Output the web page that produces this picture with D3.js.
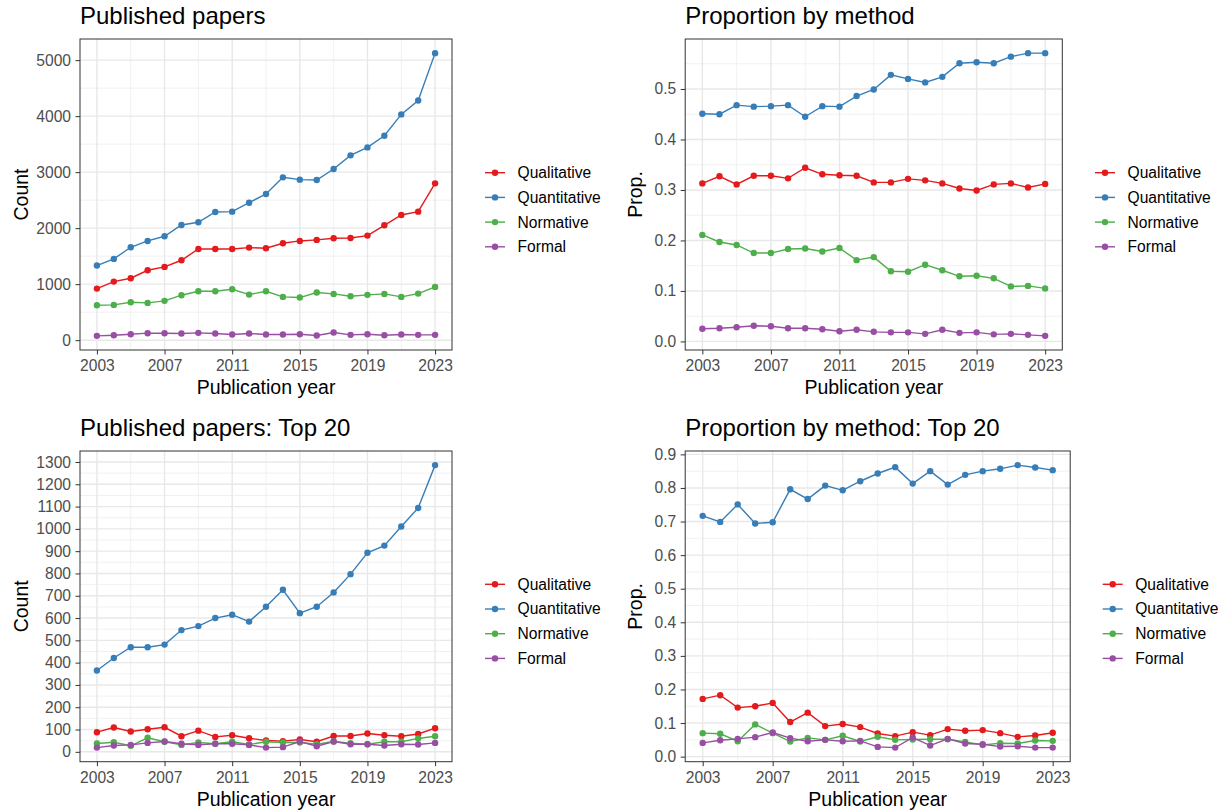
<!DOCTYPE html>
<html>
<head>
<meta charset="utf-8">
<script src="https://cdn.jsdelivr.net/npm/d3@7"></script>
<style>
  body { margin: 0; background: #fff; }
  svg { display: block; font-family: "Liberation Sans", Arial, Helvetica, sans-serif; }
</style>
</head>
<body>
<svg id="chart" width="1223" height="811"></svg>
<script>
// data
const years = [2003, 2004, 2005, 2006, 2007, 2008, 2009, 2010, 2011, 2012, 2013,
               2014, 2015, 2016, 2017, 2018, 2019, 2020, 2021, 2022, 2023];
const methods = ["Qualitative", "Quantitative", "Normative", "Formal"];
const methodColors = ["#E41A1C", "#377EB8", "#4DAF4A", "#984EA3"];

// all papers, counts
const countQual   = [921, 1046, 1106, 1248, 1308, 1427, 1629, 1629, 1629, 1653, 1641, 1730, 1772, 1790, 1819, 1825, 1867, 2051, 2235, 2295, 2800];
const countQuant  = [1332, 1451, 1659, 1772, 1855, 2057, 2105, 2289, 2295, 2455, 2610, 2907, 2866, 2860, 3056, 3300, 3442, 3650, 4031, 4280, 5125];
const countNorm   = [624, 630, 678, 666, 702, 803, 874, 874, 910, 814, 874, 773, 761, 850, 826, 785, 809, 826, 773, 832, 951];
const countFormal = [77, 89, 107, 125, 125, 119, 131, 119, 101, 119, 101, 101, 107, 83, 137, 95, 107, 89, 101, 95, 95];

// all papers, proportions
const propQual   = [0.313, 0.327, 0.311, 0.328, 0.328, 0.323, 0.344, 0.331, 0.329, 0.328, 0.315, 0.315, 0.322, 0.319, 0.313, 0.303, 0.299, 0.311, 0.313, 0.305, 0.312];
const propQuant  = [0.451, 0.450, 0.468, 0.465, 0.466, 0.468, 0.445, 0.466, 0.465, 0.486, 0.499, 0.528, 0.520, 0.513, 0.524, 0.551, 0.553, 0.551, 0.564, 0.571, 0.571];
const propNorm   = [0.211, 0.197, 0.191, 0.175, 0.175, 0.183, 0.184, 0.178, 0.185, 0.161, 0.167, 0.139, 0.138, 0.152, 0.141, 0.129, 0.130, 0.125, 0.109, 0.110, 0.105];
const propFormal = [0.025, 0.026, 0.028, 0.031, 0.030, 0.026, 0.026, 0.024, 0.020, 0.023, 0.019, 0.018, 0.018, 0.015, 0.023, 0.017, 0.018, 0.014, 0.015, 0.013, 0.011];

// top 20 journals, counts
const topCountQual   = [88, 109, 91, 101, 110, 70, 95, 67, 74, 61, 51, 48, 55, 45, 71, 71, 82, 74, 70, 80, 106];
const topCountQuant  = [365, 421, 469, 469, 481, 546, 564, 600, 615, 584, 651, 727, 622, 651, 715, 797, 893, 925, 1011, 1094, 1286];
const topCountNorm   = [37, 43, 27, 63, 45, 31, 42, 36, 45, 33, 45, 42, 42, 34, 46, 39, 34, 45, 45, 60, 70];
const topCountFormal = [19, 28, 31, 40, 46, 36, 31, 36, 36, 31, 19, 21, 46, 25, 46, 34, 34, 28, 34, 33, 40];

// top 20 journals, proportions
const topPropQual   = [0.172, 0.183, 0.146, 0.150, 0.160, 0.103, 0.131, 0.091, 0.097, 0.088, 0.069, 0.061, 0.073, 0.064, 0.082, 0.077, 0.079, 0.070, 0.059, 0.063, 0.071];
const topPropQuant  = [0.717, 0.699, 0.751, 0.694, 0.698, 0.796, 0.767, 0.807, 0.793, 0.820, 0.843, 0.862, 0.813, 0.850, 0.810, 0.839, 0.850, 0.857, 0.868, 0.861, 0.853];
const topPropNorm   = [0.070, 0.068, 0.046, 0.096, 0.070, 0.045, 0.056, 0.050, 0.062, 0.045, 0.059, 0.050, 0.051, 0.052, 0.052, 0.044, 0.035, 0.040, 0.039, 0.048, 0.047];
const topPropFormal = [0.041, 0.049, 0.053, 0.058, 0.072, 0.055, 0.046, 0.050, 0.046, 0.047, 0.029, 0.027, 0.057, 0.033, 0.053, 0.039, 0.037, 0.030, 0.031, 0.027, 0.027];

// tick labels
const yearTicks = [2003, 2007, 2011, 2015, 2019, 2023];
const countTicks = [0, 1000, 2000, 3000, 4000, 5000];
const propTicks = [0, 0.1, 0.2, 0.3, 0.4, 0.5];
const topCountTicks = [0, 100, 200, 300, 400, 500, 600, 700, 800, 900, 1000, 1100, 1200, 1300];
const topPropTicks = [0, 0.1, 0.2, 0.3, 0.4, 0.5, 0.6, 0.7, 0.8, 0.9];

const svg = d3.select("#chart");

const panels = [
  {title: "Published papers", ylab: "Count", series: [countQual, countQuant, countNorm, countFormal],
   ticks: countTicks, fmt: d3.format("d"), box: [80, 452, 39, 350], ylabX: 27.5, legX: 485, legY: 172.7},
  {title: "Proportion by method", ylab: "Prop.", series: [propQual, propQuant, propNorm, propFormal],
   ticks: propTicks, fmt: d3.format(".1f"), box: [685.2, 1062.3, 39, 350], ylabX: 642, legX: 1095, legY: 172.7},
  {title: "Published papers: Top 20", ylab: "Count", series: [topCountQual, topCountQuant, topCountNorm, topCountFormal],
   ticks: topCountTicks, fmt: d3.format("d"), box: [80, 452, 451, 761.7], ylabX: 27.5, legX: 485, legY: 584.3},
  {title: "Proportion by method: Top 20", ylab: "Prop.", series: [topPropQual, topPropQuant, topPropNorm, topPropFormal],
   ticks: topPropTicks, fmt: d3.format(".1f"), box: [685.2, 1070.2, 451, 761.7], ylabX: 642, legX: 1102.7, legY: 584.3}
];

function expand(ext, f) {
  let pad = (ext[1] - ext[0]) * f;
  return [ext[0] - pad, ext[1] + pad];
}

function minorTicks(major, domain) {
  let step = major[1] - major[0], out = [];
  for (let i = -1; i < major.length; i++) {
    let v = (i < 0 ? major[0] - step : major[i]) + step / 2;
    if (v > domain[0] && v < domain[1]) out.push(v);
  }
  return out;
}

panels.forEach(p => drawPanel(p));

function drawPanel(p) {
  let [x0, x1, y0, y1] = p.box;
  let all = [].concat(...p.series);
  let x = d3.scaleLinear().domain(expand(d3.extent(years), 0.05)).range([x0, x1]);
  let y = d3.scaleLinear().domain(expand(d3.extent(all), 0.05)).range([y1, y0]);
  let g = svg.append("g");

  g.append("rect").attr("x", x0).attr("y", y0).attr("width", x1 - x0).attr("height", y1 - y0).attr("fill", "#fff");

  // grid
  let xMinor = minorTicks(yearTicks, x.domain()), yMinor = minorTicks(p.ticks, y.domain());
  g.selectAll(".gxm").data(xMinor).enter().append("line")
    .attr("x1", d => x(d)).attr("x2", d => x(d)).attr("y1", y0).attr("y2", y1)
    .attr("stroke", "#EEEEEE").attr("stroke-width", 0.8);
  g.selectAll(".gym").data(yMinor).enter().append("line")
    .attr("x1", x0).attr("x2", x1).attr("y1", d => y(d)).attr("y2", d => y(d))
    .attr("stroke", "#EEEEEE").attr("stroke-width", 0.8);
  g.selectAll(".gx").data(yearTicks).enter().append("line")
    .attr("x1", d => x(d)).attr("x2", d => x(d)).attr("y1", y0).attr("y2", y1)
    .attr("stroke", "#E8E8E8").attr("stroke-width", 1.4);
  g.selectAll(".gy").data(p.ticks).enter().append("line")
    .attr("x1", x0).attr("x2", x1).attr("y1", d => y(d)).attr("y2", d => y(d))
    .attr("stroke", "#E8E8E8").attr("stroke-width", 1.4);

  // lines then points
  let line = d3.line().x((d, i) => x(years[i])).y(d => y(d));
  p.series.forEach((s, k) => {
    g.append("path").datum(s).attr("d", line).attr("fill", "none")
      .attr("stroke", methodColors[k]).attr("stroke-width", 1.4);
  });
  p.series.forEach((s, k) => {
    g.selectAll(null).data(s).enter().append("circle")
      .attr("cx", (d, i) => x(years[i])).attr("cy", d => y(d)).attr("r", 3.2)
      .attr("fill", methodColors[k]);
  });

  g.append("rect").attr("x", x0).attr("y", y0).attr("width", x1 - x0).attr("height", y1 - y0)
    .attr("fill", "none").attr("stroke", "#333").attr("stroke-width", 1);

  // axes
  let ax = g.append("g").attr("transform", `translate(0,${y1})`)
    .call(d3.axisBottom(x).tickValues(yearTicks).tickFormat(d3.format("d")).tickSize(4.5).tickPadding(5.5));
  let ay = g.append("g").attr("transform", `translate(${x0},0)`)
    .call(d3.axisLeft(y).tickValues(p.ticks).tickFormat(p.fmt).tickSize(4.5).tickPadding(4.5));
  [ax, ay].forEach(a => {
    a.select(".domain").remove();
    a.attr("font-family", null);
    a.selectAll("line").attr("stroke", "#333");
    a.selectAll("text").attr("fill", "#4D4D4D").style("font-size", "15.6px");
  });

  // titles
  g.append("text").attr("x", x0).attr("y", y0 - 15).text(p.title)
    .style("font-size", "24px").attr("fill", "#000");
  g.append("text").attr("x", (x0 + x1) / 2).attr("y", y1 + 44).attr("text-anchor", "middle")
    .text("Publication year").style("font-size", "19.5px").attr("fill", "#000");
  g.append("text").attr("transform", `translate(${p.ylabX},${(y0 + y1) / 2}) rotate(-90)`)
    .attr("text-anchor", "middle").text(p.ylab).style("font-size", "19.5px").attr("fill", "#000");

  // legend
  let leg = g.selectAll(".leg").data(methods).enter().append("g")
    .attr("transform", (d, i) => `translate(${p.legX},${p.legY + i * 24.7})`);
  leg.append("line").attr("x1", 0).attr("x2", 20).attr("stroke", (d, i) => methodColors[i]).attr("stroke-width", 1.4);
  leg.append("circle").attr("cx", 10).attr("r", 3.2).attr("fill", (d, i) => methodColors[i]);
  leg.append("text").attr("x", 32.5).attr("dy", "0.35em").text(d => d)
    .style("font-size", "15.6px").attr("fill", "#000");
}
</script>
</body>
</html>
